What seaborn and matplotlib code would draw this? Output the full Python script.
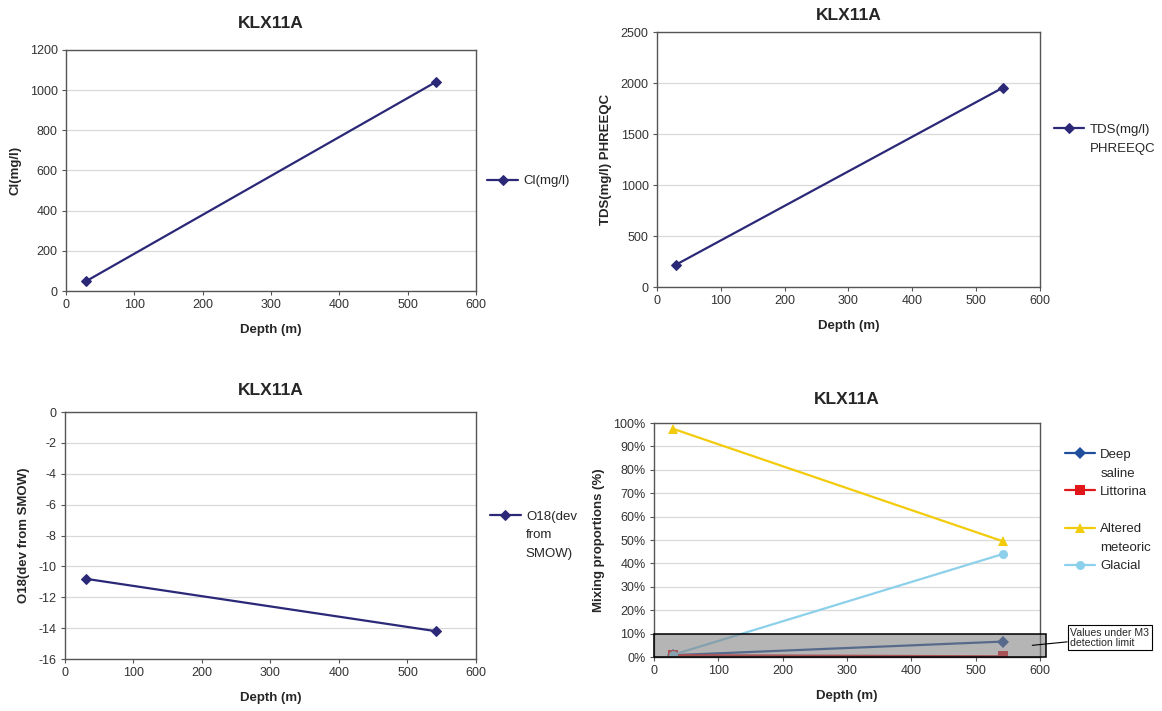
import matplotlib
matplotlib.use("Agg")
import matplotlib.pyplot as plt
from matplotlib.lines import Line2D
from matplotlib.patches import Rectangle
from matplotlib.ticker import PercentFormatter
import seaborn as sns
import pandas as pd

# Borehole KLX11A sample data
borehole = "KLX11A"
depth = [30, 542]
cl_mgl = [50, 1042]
tds_mgl = [220, 1955]
o18_smow = [-10.8, -14.2]

# M3 mixing proportions (%)
mix_deep_saline = [0.8, 6.6]
mix_littorina = [0.8, 0.3]
mix_altered_meteoric = [97.5, 49.5]
mix_glacial = [1.0, 44.0]
detection_limit = 10

sns.set_theme(style="white")
plt.rcParams["font.family"] = ["Liberation Sans", "DejaVu Sans"]
plt.rcParams["axes.unicode_minus"] = False

LINE = "#2B2878"
GRID = "#d9d9d9"
FRAME = "#555555"
TICK = "#333333"
LEGEND_FS = 9.5

fig = plt.figure(figsize=(11.62, 7.11), dpi=100)
fig.patch.set_facecolor("white")


def style_axes(ax, ylabel, ylim, yticks, title_pad):
    ax.set_xlim(0, 600)
    ax.set_xticks(range(0, 601, 100))
    ax.set_ylim(*ylim)
    ax.set_yticks(yticks)
    ax.yaxis.grid(True, color=GRID, linewidth=0.9)
    ax.xaxis.grid(False)
    ax.set_axisbelow(True)
    for s in ax.spines.values():
        s.set_color(FRAME)
        s.set_linewidth(1.0)
    ax.tick_params(axis="both", which="major", direction="out", length=3,
                   width=0.8, color=FRAME, labelsize=9, labelcolor=TICK,
                   bottom=True, left=True, pad=3)
    ax.set_xlabel("Depth (m)", fontsize=9.5, fontweight="bold", labelpad=9)
    ax.set_ylabel(ylabel, fontsize=9.5, fontweight="bold", labelpad=6)
    ax.set_title(borehole, fontsize=12.5, fontweight="bold", pad=title_pad)


def stacked_legend(ax, groups, anchor, blank_after=()):
    """Legend where a multi-line label keeps its marker on the first line."""
    old = ax.get_legend()
    proxies = dict(zip([t.get_text() for t in old.texts], old.legend_handles))
    old.remove()
    blank = Line2D([], [], linestyle="none", marker=None)
    handles, labels = [], []
    for name in groups:
        lines = name.split("\n")
        handles.append(proxies[name])
        labels.append(lines[0])
        for extra in lines[1:]:
            handles.append(blank)
            labels.append(extra)
        if name in blank_after:
            handles.append(blank)
            labels.append(" ")
    ax.legend(handles, labels, loc="center left", bbox_to_anchor=anchor,
              frameon=False, fontsize=LEGEND_FS, handlelength=2.3,
              handletextpad=0.4, labelspacing=0.48, borderaxespad=0)


def single_series(rect, values, ylabel, name, ylim, yticks, anchor, title_pad):
    ax = fig.add_axes(rect)
    df = pd.DataFrame({"depth": depth, "value": values, "series": name})
    sns.lineplot(data=df, x="depth", y="value", hue="series", palette=[LINE],
                 marker="D", markersize=5.5, markeredgecolor=LINE, linewidth=1.6,
                 ax=ax)
    style_axes(ax, ylabel, ylim, yticks, title_pad)
    stacked_legend(ax, [name], anchor)
    return ax


single_series([0.0568, 0.5907, 0.3528, 0.339], cl_mgl, "Cl(mg/l)", "Cl(mg/l)",
              (0, 1200), range(0, 1201, 200), (1.015, 0.456), 16)
single_series([0.5654, 0.5963, 0.3296, 0.3586], tds_mgl, "TDS(mg/l) PHREEQC",
              "TDS(mg/l)\nPHREEQC", (0, 2500), range(0, 2501, 500), (1.023, 0.58), 9)
single_series([0.0559, 0.0731, 0.3537, 0.3474], o18_smow, "O18(dev from SMOW)",
              "O18(dev\nfrom\nSMOW)", (-16, 0), range(-16, 1, 2), (1.022, 0.502), 12)

# Mixing proportions panel
ax4 = fig.add_axes([0.5628, 0.0759, 0.3322, 0.3291])
mix_series = [
    ("Deep\nsaline", mix_deep_saline, "#1F4E9C", "D"),
    ("Littorina", mix_littorina, "#E0161B", "s"),
    ("Altered\nmeteoric", mix_altered_meteoric, "#F2CC0C", "^"),
    ("Glacial", mix_glacial, "#8DD0EC", "o"),
]
rows = []
for name, vals, _, _ in mix_series:
    for d, v in zip(depth, vals):
        rows.append({"depth": d, "value": v, "series": name})
mix_df = pd.DataFrame(rows)
names = [m[0] for m in mix_series]
sns.lineplot(data=mix_df, x="depth", y="value", hue="series", style="series",
             hue_order=names, style_order=names,
             palette={m[0]: m[2] for m in mix_series},
             markers={m[0]: m[3] for m in mix_series}, dashes=False,
             markersize=6.5, linewidth=1.6, markeredgewidth=0, ax=ax4)
style_axes(ax4, "Mixing proportions (%)", (0, 100), range(0, 101, 10), 14)
ax4.yaxis.set_major_formatter(PercentFormatter(decimals=0))
stacked_legend(ax4, names, (1.05, 0.626), blank_after=("Littorina",))

# Shaded band for values below the M3 detection limit
ax4.add_patch(Rectangle((0, 0), 610, detection_limit, facecolor="#808080",
                        alpha=0.58, edgecolor="none", zorder=5, clip_on=False))
ax4.add_patch(Rectangle((0, 0), 610, detection_limit, facecolor="none",
                        edgecolor="black", linewidth=1.1, zorder=6, clip_on=False))
ax4.annotate("Values under M3\ndetection limit", xy=(588, 5),
             xytext=(647, 8.3), textcoords="data", fontsize=7.6, va="center",
             ha="left", annotation_clip=False, zorder=7, linespacing=1.0,
             bbox=dict(boxstyle="square,pad=0.25", fc="white", ec="black", lw=0.8),
             arrowprops=dict(arrowstyle="-", color="black", lw=0.8,
                             shrinkA=0, shrinkB=0))

fig.savefig("out.png", dpi=100, facecolor="white")
